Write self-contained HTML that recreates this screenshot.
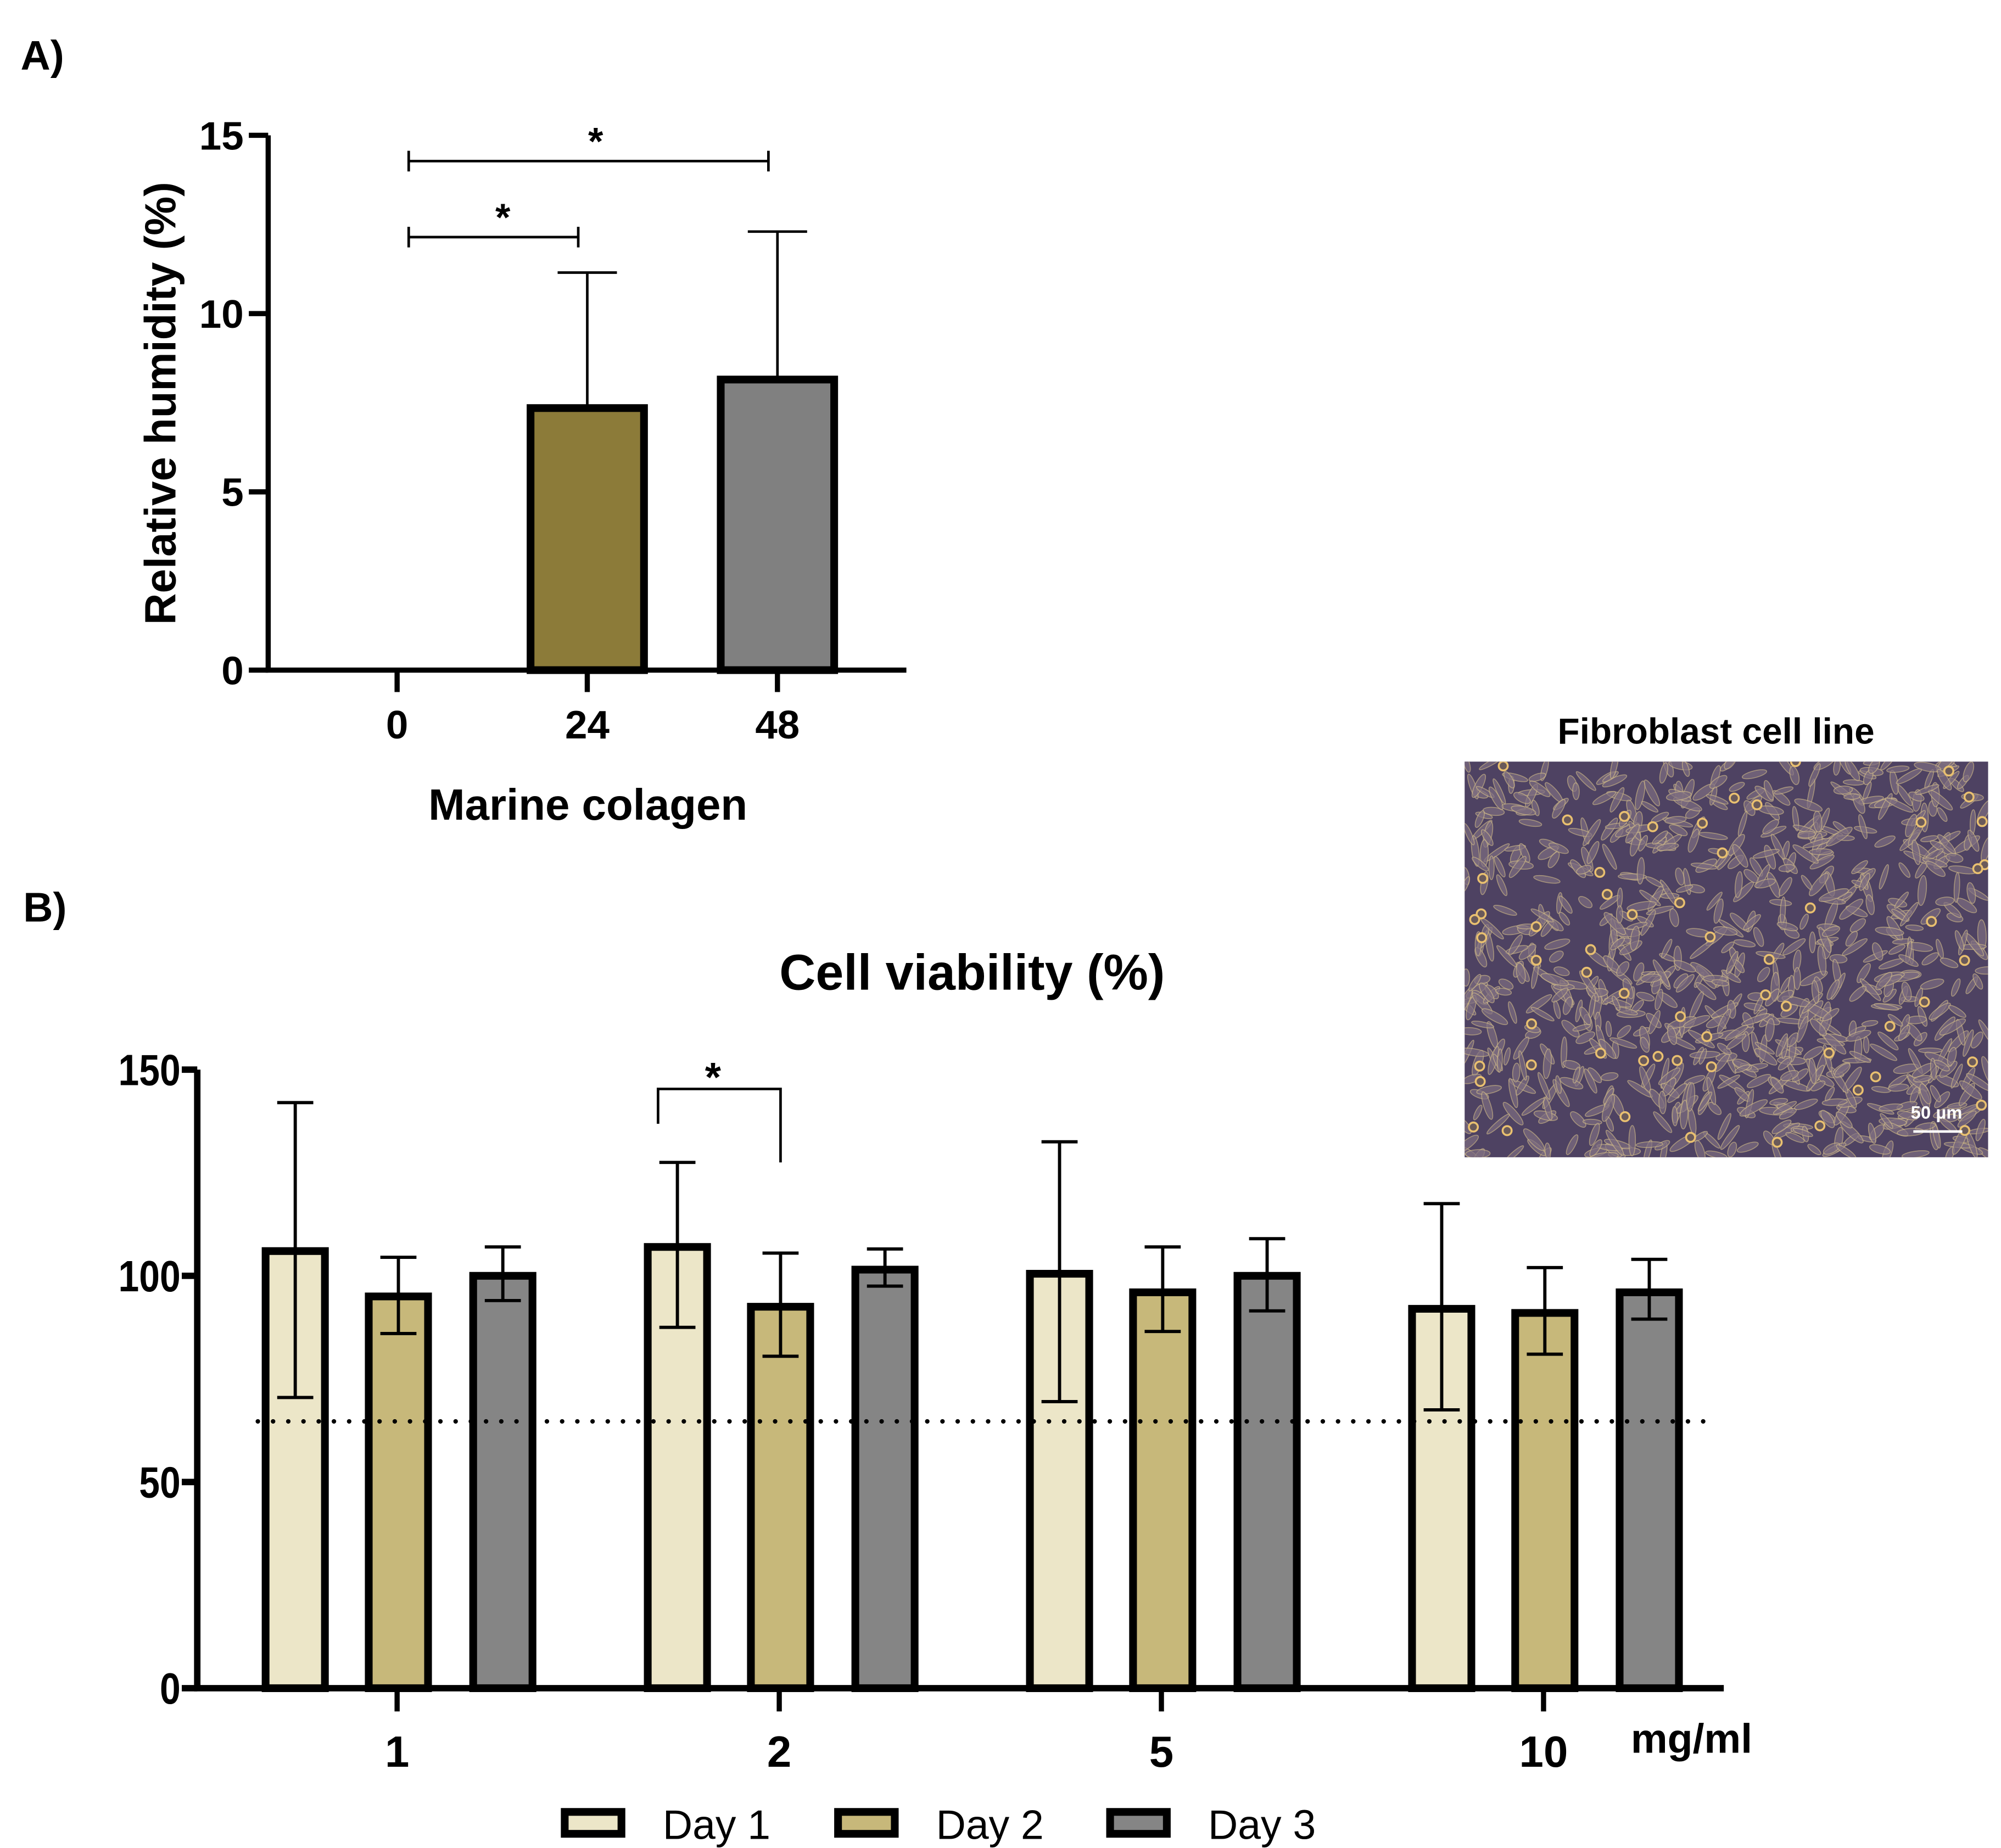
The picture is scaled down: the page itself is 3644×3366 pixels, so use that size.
<!DOCTYPE html>
<html><head><meta charset="utf-8"><style>
html,body{margin:0;padding:0;background:#fff}
svg{display:block}
text{font-family:"Liberation Sans",Arial,sans-serif;font-weight:bold;fill:#000}
text.normal{font-weight:normal}
</style></head><body>
<svg id="root" width="3644" height="3366" viewBox="0 0 1552 1434" preserveAspectRatio="none" xmlns="http://www.w3.org/2000/svg">
<g id="panelA"></g>
<g id="panelB"></g>
<g id="photo"></g>
</svg>
<script>
// ---------- Panel A data ----------
const catsA = ["0", "24", "48"];
const valsA = [0, 7.35, 8.15];
const errA = [0, 3.8, 4.15];
const ticksA = [0, 5, 10, 15];
// ---------- Panel B data ----------
const catsB = ["1", "2", "5", "10"];
const day1 = [106, 107, 100.5, 92];
const day2 = [95, 92.5, 96, 91];
const day3 = [100, 101.5, 100, 96];
const day1Hi = [142, 127.5, 132.5, 117.5];
const day1Lo = [70.5, 87.5, 69.5, 67.5];
const day2Hi = [104.5, 105.5, 107, 102];
const day2Lo = [86, 80.5, 86.5, 81];
const day3Hi = [107, 106.5, 109, 104];
const day3Lo = [94, 97.5, 91.5, 89.5];
const ticksB = [0, 50, 100, 150];
const refLine = 64.7;
const seriesNames = ["Day 1", "Day 2", "Day 3"];

const NS = "http://www.w3.org/2000/svg";
function mk(parent, tag, attrs, txt){
  const e = document.createElementNS(NS, tag);
  for (const k in attrs) e.setAttribute(k, attrs[k]);
  if (txt !== undefined) e.textContent = txt;
  parent.appendChild(e);
  return e;
}

// ---------- Panel A ----------
(function(){
  const g = document.getElementById('panelA');
  const yA = v => 520 - v * (415/15);
  const xA = i => 308 + i * 147.5;
  const colorsA = ["#ffffff", "#8c7b39", "#808080"];
  let t = mk(g,'text',{x:16,y:54,'font-size':32},'A)');
   
  catsA.forEach((c,i)=>{
    if (valsA[i] > 0) {
      const x = xA(i);
      const r = mk(g,'rect',{x:x-44,y:yA(valsA[i]),width:88,height:yA(0)-yA(valsA[i]),fill:colorsA[i],stroke:'#000','stroke-width':6});
       
      const e = mk(g,'path',{d:`M${x} ${yA(valsA[i])} V${yA(valsA[i]+errA[i])} M${x-23} ${yA(valsA[i]+errA[i])} H${x+23}`,stroke:'#000','stroke-width':2,fill:'none'});
       
    }
    const tk = mk(g,'line',{x1:xA(i),x2:xA(i),y1:yA(0),y2:yA(0)+17,stroke:'#000','stroke-width':4});
     
    const tl = mk(g,'text',{x:xA(i),y:yA(0)+53,'font-size':31,'text-anchor':'middle'},c);
     
  });
  let ax = mk(g,'path',{d:`M208 ${yA(15)} V${yA(0)} H703`,stroke:'#000','stroke-width':4,fill:'none'});
   
  ticksA.forEach(v=>{
    const l = mk(g,'line',{x1:193,x2:208,y1:yA(v),y2:yA(v),stroke:'#000','stroke-width':4});
     
    const tl = mk(g,'text',{x:189,y:yA(v)+11,'font-size':31,'text-anchor':'end'},String(v));
     
  });
  t = mk(g,'text',{x:456,y:636,'font-size':34,'text-anchor':'middle'},'Marine colagen');
   
  t = mk(g,'text',{x:0,y:0,'font-size':34,'text-anchor':'middle',transform:'translate(136,313) rotate(-90)'},'Relative humidity (%)');
   
  const br = [[0,2,125,462],[0,1,184,390]];
  br.forEach(b=>{
    const x1 = xA(b[0])+9, x2 = xA(b[1])-7;
    const p = mk(g,'path',{d:`M${x1} ${b[2]-8} V${b[2]+8} M${x1} ${b[2]} H${x2} M${x2} ${b[2]-8} V${b[2]+8}`,stroke:'#000','stroke-width':2,fill:'none'});
     
    const s = mk(g,'text',{x:b[3],y:b[2]-5,'font-size':30,'text-anchor':'middle'},'*');
     
  });
})();

// ---------- Panel B ----------
(function(){
  const g = document.getElementById('panelB');
  const yB = v => 1310 - v * 3.2;
  const xB = i => 308 + i * 296.4;
  const offs = [-79, 1, 82];
  const fills = ["#ece6c8", "#c7b87a", "#858585"];
  const vals = [day1, day2, day3], his = [day1Hi, day2Hi, day3Hi], los = [day1Lo, day2Lo, day3Lo];
  let t = mk(g,'text',{x:18,y:715,'font-size':32},'B)');
   
  t = mk(g,'text',{x:754,y:768,'font-size':39,'text-anchor':'middle'},'Cell viability (%)');
   
  catsB.forEach((c,i)=>{
    vals.forEach((arr,s)=>{
      const x = xB(i)+offs[s];
      const r = mk(g,'rect',{x:x-23,y:yB(arr[i]),width:46,height:yB(0)-yB(arr[i]),fill:fills[s],stroke:'#000','stroke-width':6});
       
      const e = mk(g,'path',{d:`M${x} ${yB(his[s][i])} V${yB(los[s][i])} M${x-14} ${yB(his[s][i])} H${x+14} M${x-14} ${yB(los[s][i])} H${x+14}`,stroke:'#000','stroke-width':2.5,fill:'none'});
       
    });
    const tk = mk(g,'line',{x1:xB(i),x2:xB(i),y1:yB(0),y2:yB(0)+18,stroke:'#000','stroke-width':4});
     
    const tl = mk(g,'text',{x:xB(i),y:1371,'font-size':34,'text-anchor':'middle'},c);
     
  });
  const dl = mk(g,'line',{x1:200,x2:1330,y1:yB(refLine),y2:yB(refLine),stroke:'#000','stroke-width':3.5,'stroke-dasharray':'0 11.8','stroke-linecap':'round'});
   
  let ax = mk(g,'path',{d:`M153 ${yB(150)} V${yB(0)} H1337`,stroke:'#000','stroke-width':5,fill:'none'});
   
  ticksB.forEach(v=>{
    const l = mk(g,'line',{x1:141,x2:153,y1:yB(v),y2:yB(v),stroke:'#000','stroke-width':5});
     
    const tl = mk(g,'text',{x:140,y:yB(v)+12,'font-size':34,'text-anchor':'end',transform:`translate(${140*0.15} 0) scale(0.85 1)`},String(v));
     
  });
  t = mk(g,'text',{x:1312,y:1360,'font-size':32,'text-anchor':'middle'},'mg/ml');
   
  const bx1 = xB(1)+offs[0]-15, bx2 = xB(1)+offs[1];
  const p = mk(g,'path',{d:`M${bx1} 872 V845 H${bx2} V902`,stroke:'#000','stroke-width':2,fill:'none'});
   
  t = mk(g,'text',{x:553,y:847,'font-size':32,'text-anchor':'middle'},'*');
   
  const lx = [435, 647, 858];
  seriesNames.forEach((n,s)=>{
    const r = mk(g,'rect',{x:lx[s]+3,y:1406,width:44,height:17,fill:fills[s],stroke:'#000','stroke-width':6});
     
    const tl = mk(g,'text',{x:lx[s]+79,y:1427,'font-size':32,'class':'normal'},n);
     
  });
})();

// ---------- Photo (decorative texture) ----------
(function(){
  const g = document.getElementById('photo');
  let t = mk(g,'text',{x:1331,y:577,'font-size':28,'text-anchor':'middle'},'Fibroblast cell line');
   
  const X0=1136, Y0=591, W=406, H=307;
  const bg = mk(g,'rect',{x:X0,y:Y0,width:W,height:H,fill:'#4e4262'});
   
  const defs = mk(g,'defs',{});
  const cp = mk(defs,'clipPath',{id:'pc'});
  mk(cp,'rect',{x:X0,y:Y0,width:W,height:H});
  const cg = mk(g,'g',{'clip-path':'url(#pc)'});
  let seed = 7;
  const rnd = ()=>{ seed = (seed*16807)%2147483647; return seed/2147483647; };
  for (let k=0;k<900;k++){
    const cx = X0 + rnd()*W, cy = Y0 + rnd()*H, a = rnd()*180;
    mk(cg,'ellipse',{cx:cx,cy:cy,rx:6+rnd()*6,ry:1.8+rnd()*1.5,fill:'#7e6e80',stroke:'#c9b488','stroke-width':0.7,opacity:0.7,transform:`rotate(${a} ${cx} ${cy})`});
  }
  for (let k=0;k<60;k++){
    const cx = X0 + rnd()*W, cy = Y0 + rnd()*H;
    mk(cg,'circle',{cx:cx,cy:cy,r:3.5,fill:'#6a5a5a',stroke:'#e9c070','stroke-width':1.5});
  }
  t = mk(g,'text',{x:1502,y:868,'font-size':14,'text-anchor':'middle',style:'fill:#fff'},'50 µm');
   
  const sb = mk(g,'line',{x1:1484,x2:1522,y1:878,y2:878,stroke:'#fff','stroke-width':2});
   
})();
</script>
</body></html>
